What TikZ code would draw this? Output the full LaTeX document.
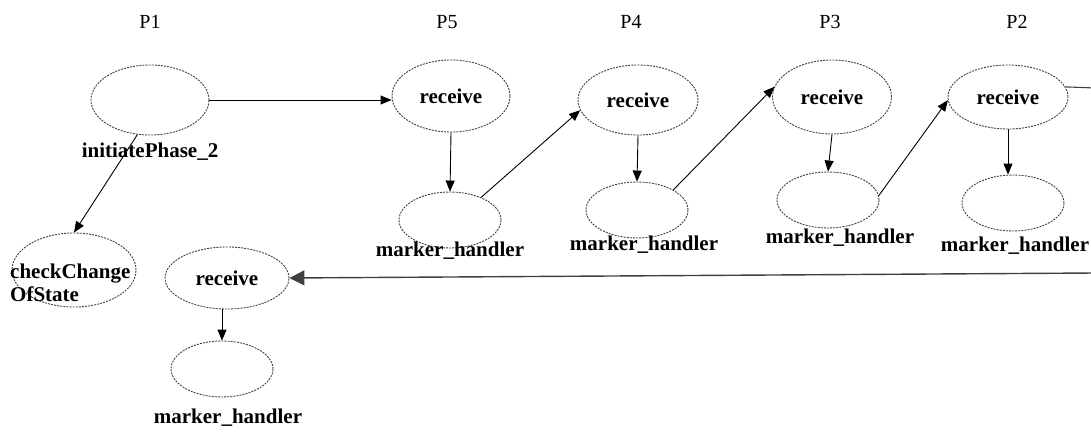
\documentclass[tikz,border=0pt]{standalone}
\usepackage{fontspec}
\setmainfont{Liberation Serif}
\usetikzlibrary{shapes.geometric,arrows.meta}

\begin{document}
\begin{tikzpicture}[x=1pt,y=-1pt,
  ell/.style={ellipse, draw=black!75, line width=0.9pt,
    dash pattern=on 2pt off 1.1pt, inner sep=0pt,
    font=\fontsize{21}{23}\bfseries\selectfont},
  recv/.style={ell, minimum width=120pt, minimum height=70pt},
  mh/.style={ell, minimum width=102pt, minimum height=56pt},
  lbl/.style={inner sep=0pt, font=\fontsize{21}{23}\bfseries\selectfont},
  proc/.style={inner sep=0pt, font=\fontsize{20}{22}\selectfont},
  arr/.style={draw=black, line width=0.9pt, -{Triangle[length=11pt,width=9pt]}},
  bigarr/.style={draw=black!75, line width=1.4pt, -{Triangle[length=15pt,width=15pt]}}]

\useasboundingbox (0,0) rectangle (1091,433);

% process headings
\node[proc] (p1) at (150,22) {P1};
\node[proc] (p5) at (447,22) {P5};
\node[proc] (p4) at (631,22) {P4};
\node[proc] (p3) at (830,22) {P3};
\node[proc] (p2) at (1017,22) {P2};

% P1
\node[ell, minimum width=118pt, minimum height=70pt] (init) at (150,100) {};
\node[lbl] (linit) at (150,152) {initiatePhase\_2};
\node[ell, minimum width=124pt, minimum height=74pt] (chk) at (74,270) {};
\node[lbl, anchor=west, align=left] (lchk) at (10,283) {checkChange\\OfState};
\node[recv, minimum width=124pt, minimum height=62pt] (recv1) at (227,278) {receive};
\node[mh] (mh1) at (222,369) {};
\node[lbl] (lmh1) at (228,418) {marker\_handler};

% P5
\node[recv, minimum width=118pt, minimum height=72pt] (recv5) at (451,96) {receive};
\node[mh] (mh5) at (450,220) {};
\node[lbl] (lmh5) at (450,251) {marker\_handler};

% P4
\node[recv] (recv4) at (638,100) {receive};
\node[mh] (mh4) at (637,210) {};
\node[lbl] (lmh4) at (644,245) {marker\_handler};

% P3
\node[recv, minimum width=119pt, minimum height=74pt] (recv3) at (832,97) {receive};
\node[mh] (mh3) at (828,200) {};
\node[lbl] (lmh3) at (840,238) {marker\_handler};

% P2
\node[recv, minimum height=64pt] (recv2) at (1008,97) {receive};
\node[mh] (mh2) at (1013,203) {};
\node[lbl] (lmh2) at (1015,246) {marker\_handler};

% edges leaving the visible area
\coordinate (outR) at (1095,88);
\coordinate (inR) at (1095,273);

% connectors
\draw[arr] (init.east) -- (init.east -| recv5.west);
\draw[arr] (init.250) -- (chk.north);
\draw[arr] (recv5.south) -- (mh5.north);
\draw[arr] (mh5.36) -- (recv4.190);
\draw[arr] (recv4.south) -- (mh4.north);
\draw[arr] (mh4.29) -- (recv3.170);
\draw[arr] (recv3.south) -- (mh3.north);
\draw[arr] (mh3.5) -- (recv2.183);
\draw[arr] (recv2.south) -- (recv2.south |- mh2.north);
\draw[draw=black!75, line width=1.1pt] (recv2.10) -- (outR);
\draw[bigarr] (inR) -- (recv1.east);
\draw[arr] (mh1.north |- recv1.south) -- (mh1.north);

\end{tikzpicture}
\end{document}
